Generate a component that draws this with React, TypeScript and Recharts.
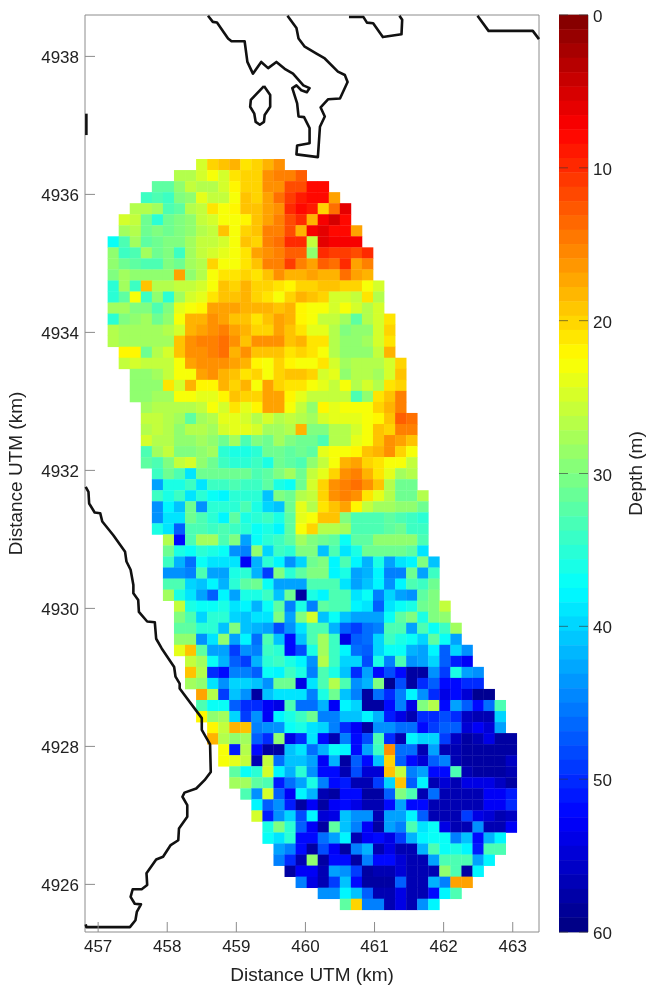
import { ReferenceArea, Scatter, ScatterChart, XAxis, YAxis } from "recharts";

const FONT = "'Liberation Sans', Arial, sans-serif";
const AXIS_GREY = "#8c8c8c";
const TEXT = "#222";

const xTicks = [457, 458, 459, 460, 461, 462, 463];
const yTicks = [4926, 4928, 4930, 4932, 4934, 4936, 4938];
const depthTicks = [0, 10, 20, 30, 40, 50, 60];

// grid of the survey, km
const FIRST_X = 457.22;
const FIRST_Y = 4936.43;
const STEP = 0.16;

// first occupied column of every row, north to south
const rowStart = [
  8, 6, 4, 3, 2, 1, 1, 0, 0, 0, 0, 0, 0, 0, 0, 0, 0, 1, 1, 2, 2, 2, 3, 3, 3, 3, 3, 3, 4, 4, 4, 4, 4, 4,
  5, 5, 5, 5, 5, 5, 6, 6, 6, 6, 6, 7, 7, 7, 8, 8, 8, 9, 9, 10, 10, 11, 11, 12, 13, 13, 14, 14, 15, 15, 16, 17, 19, 21,
];

// depth (m), one list per row
const depthRows = [
  [25, 20, 19, 18, 21, 20, 18, 16],
  [27, 27, 25, 23, 25, 21, 20, 20, 16, 15, 15, 13],
  [32, 32, 29, 26, 27, 27, 25, 22, 20, 20, 16, 16, 12, 12, 8, 8],
  [34, 33, 34, 30, 29, 24, 26, 26, 23, 19, 20, 17, 14, 11, 9, 8, 8, 17],
  [27, 27, 28, 33, 32, 27, 26, 21, 23, 22, 19, 19, 17, 16, 10, 8, 9, 20, 14, 6],
  [25, 26, 31, 35, 31, 30, 29, 26, 25, 23, 23, 22, 19, 17, 15, 12, 10, 18, 7, 5, 8],
  [28, 27, 31, 30, 31, 30, 29, 27, 26, 19, 23, 20, 19, 15, 15, 12, 18, 7, 6, 8, 8, 17],
  [37, 33, 28, 32, 31, 30, 30, 28, 26, 26, 25, 23, 19, 20, 15, 14, 10, 10, 26, 6, 7, 7, 7],
  [29, 34, 33, 28, 31, 30, 34, 28, 26, 25, 24, 23, 21, 17, 16, 15, 13, 13, 29, 10, 11, 11, 12, 10],
  [29, 31, 32, 33, 33, 30, 31, 28, 27, 20, 23, 23, 21, 19, 15, 15, 11, 15, 17, 13, 14, 10, 17, 15],
  [30, 28, 29, 29, 29, 29, 17, 29, 27, 23, 21, 21, 20, 21, 19, 16, 18, 18, 17, 18, 18, 14, 17, 18],
  [35, 28, 34, 19, 27, 27, 26, 26, 25, 23, 19, 20, 18, 20, 20, 21, 22, 20, 20, 19, 19, 20, 20, 23, 25],
  [35, 32, 23, 34, 29, 35, 28, 25, 24, 21, 19, 19, 18, 20, 21, 23, 20, 18, 19, 20, 25, 25, 26, 21, 27],
  [28, 28, 30, 30, 33, 30, 24, 23, 22, 17, 17, 17, 18, 18, 18, 19, 18, 22, 23, 23, 25, 23, 25, 27, 25],
  [35, 30, 29, 28, 31, 29, 23, 18, 18, 16, 17, 19, 19, 21, 19, 17, 18, 22, 23, 26, 26, 28, 32, 27, 25, 21],
  [27, 28, 28, 28, 28, 27, 25, 18, 17, 16, 15, 17, 18, 20, 20, 17, 19, 21, 24, 24, 27, 30, 29, 29, 25, 20],
  [27, 28, 28, 28, 28, 28, 19, 16, 15, 15, 14, 16, 19, 16, 16, 16, 19, 18, 21, 21, 27, 29, 29, 28, 25, 21],
  [22, 22, 31, 27, 25, 19, 16, 16, 15, 14, 18, 16, 19, 19, 19, 21, 20, 21, 23, 27, 29, 29, 29, 26, 18],
  [26, 25, 26, 26, 26, 23, 17, 16, 16, 16, 17, 18, 22, 23, 20, 22, 23, 23, 21, 25, 28, 27, 27, 27, 25, 20],
  [29, 29, 28, 26, 23, 23, 17, 16, 18, 19, 21, 20, 23, 20, 19, 19, 20, 25, 24, 29, 27, 27, 28, 25, 19],
  [29, 29, 29, 21, 25, 18, 22, 22, 18, 20, 18, 23, 17, 20, 21, 21, 23, 24, 26, 23, 27, 25, 27, 21, 20],
  [29, 29, 28, 28, 23, 23, 24, 24, 22, 19, 20, 20, 17, 17, 22, 24, 26, 26, 26, 26, 33, 29, 21, 19, 15],
  [28, 27, 27, 27, 27, 26, 23, 25, 21, 24, 22, 17, 17, 23, 26, 29, 22, 24, 23, 23, 23, 20, 18, 15],
  [26, 26, 27, 28, 32, 28, 27, 24, 24, 25, 27, 25, 27, 26, 27, 28, 25, 24, 24, 24, 23, 22, 19, 13, 14],
  [27, 26, 27, 29, 27, 27, 28, 25, 24, 24, 25, 28, 28, 27, 18, 30, 30, 27, 27, 25, 23, 19, 20, 15, 15],
  [25, 27, 27, 29, 29, 28, 29, 31, 28, 33, 30, 31, 28, 30, 31, 31, 33, 27, 27, 24, 23, 19, 16, 17, 19],
  [33, 28, 26, 30, 30, 29, 28, 35, 36, 36, 35, 31, 31, 32, 31, 32, 24, 23, 23, 22, 19, 18, 16, 20, 23],
  [32, 33, 30, 26, 25, 29, 31, 34, 35, 35, 34, 36, 31, 32, 33, 29, 26, 23, 18, 17, 20, 21, 23, 23, 26],
  [34, 31, 33, 39, 31, 31, 31, 31, 31, 33, 32, 30, 28, 31, 26, 24, 20, 16, 15, 18, 21, 24, 28, 27],
  [43, 36, 36, 34, 39, 34, 34, 33, 34, 34, 32, 36, 37, 31, 25, 20, 16, 15, 14, 16, 19, 27, 31, 31],
  [34, 36, 34, 39, 35, 37, 38, 35, 35, 35, 41, 30, 31, 27, 26, 20, 16, 15, 16, 21, 24, 27, 31, 31, 27],
  [44, 38, 41, 31, 44, 35, 35, 35, 33, 36, 40, 41, 31, 24, 27, 21, 19, 17, 22, 26, 28, 28, 29, 29, 31],
  [44, 39, 39, 31, 33, 35, 38, 32, 36, 35, 34, 36, 32, 24, 23, 19, 19, 30, 33, 33, 33, 32, 33, 34, 35],
  [36, 39, 47, 33, 33, 34, 33, 34, 35, 37, 36, 38, 32, 23, 20, 27, 27, 28, 33, 33, 33, 32, 31, 34, 34],
  [27, 52, 33, 28, 28, 33, 30, 43, 37, 35, 34, 32, 28, 30, 31, 32, 37, 32, 32, 29, 29, 29, 29, 33],
  [31, 36, 37, 35, 36, 37, 44, 45, 29, 40, 34, 35, 30, 30, 41, 33, 39, 36, 31, 31, 31, 31, 32, 39],
  [34, 42, 46, 37, 39, 39, 39, 53, 42, 35, 38, 44, 40, 31, 30, 38, 33, 38, 42, 36, 43, 39, 38, 30, 41],
  [44, 44, 45, 33, 43, 43, 36, 35, 42, 49, 30, 35, 32, 30, 30, 38, 36, 43, 42, 38, 45, 45, 31, 43, 34],
  [33, 33, 40, 41, 38, 42, 35, 32, 31, 37, 43, 43, 43, 33, 33, 33, 39, 43, 41, 38, 44, 38, 33, 34, 31],
  [28, 36, 39, 43, 47, 38, 43, 36, 36, 34, 41, 31, 58, 36, 38, 33, 33, 39, 37, 45, 40, 43, 44, 32, 30],
  [26, 36, 37, 37, 36, 39, 38, 42, 37, 32, 45, 36, 45, 32, 33, 33, 38, 39, 47, 39, 37, 36, 31, 30, 26],
  [30, 33, 40, 35, 35, 40, 41, 39, 39, 30, 43, 30, 25, 41, 37, 41, 43, 43, 43, 37, 32, 30, 36, 30, 29],
  [32, 32, 35, 35, 41, 30, 41, 42, 43, 48, 44, 39, 33, 33, 42, 47, 49, 46, 45, 33, 33, 43, 33, 37, 34, 28],
  [29, 29, 44, 39, 29, 43, 38, 46, 33, 41, 52, 41, 33, 28, 34, 54, 47, 46, 40, 34, 36, 37, 40, 32, 37, 43],
  [24, 19, 32, 43, 43, 49, 44, 45, 34, 35, 52, 48, 36, 28, 34, 38, 46, 47, 40, 37, 37, 42, 43, 38, 47, 40, 44],
  [26, 28, 37, 42, 47, 49, 42, 35, 34, 36, 38, 44, 27, 34, 40, 40, 48, 36, 45, 33, 44, 43, 40, 47, 51, 53],
  [19, 27, 50, 52, 45, 45, 47, 37, 38, 34, 36, 45, 33, 36, 41, 50, 43, 52, 48, 52, 58, 58, 44, 49, 36, 43, 44],
  [28, 29, 39, 44, 40, 40, 41, 44, 31, 31, 54, 39, 33, 27, 33, 44, 42, 30, 59, 48, 58, 50, 47, 52, 52, 50, 50],
  [17, 27, 49, 41, 44, 58, 41, 39, 39, 39, 45, 36, 31, 41, 45, 58, 46, 50, 45, 38, 44, 50, 54, 52, 55, 59, 59],
  [33, 37, 37, 47, 50, 50, 53, 54, 33, 46, 46, 42, 53, 38, 40, 58, 58, 52, 45, 54, 30, 27, 52, 43, 47, 52, 46, 33],
  [22, 29, 28, 40, 49, 44, 53, 38, 36, 34, 31, 45, 45, 41, 41, 38, 42, 51, 54, 57, 50, 50, 48, 50, 56, 57, 57, 40],
  [22, 26, 18, 19, 45, 44, 44, 37, 36, 39, 40, 45, 50, 53, 58, 44, 44, 46, 46, 52, 49, 47, 47, 55, 53, 55, 43],
  [18, 27, 29, 28, 47, 50, 29, 54, 50, 39, 52, 57, 45, 52, 48, 33, 50, 57, 38, 40, 40, 49, 56, 58, 57, 54, 58, 58],
  [23, 51, 27, 52, 58, 58, 41, 39, 46, 42, 37, 38, 52, 43, 34, 16, 46, 46, 57, 43, 57, 57, 58, 58, 58, 58, 58],
  [23, 24, 26, 57, 26, 46, 41, 41, 43, 53, 42, 58, 47, 52, 41, 20, 47, 52, 55, 47, 45, 57, 58, 58, 58, 58, 56],
  [32, 37, 35, 25, 38, 42, 35, 44, 52, 52, 57, 48, 55, 55, 19, 26, 45, 43, 52, 52, 33, 57, 58, 58, 58, 57],
  [28, 28, 32, 33, 51, 46, 43, 36, 45, 52, 51, 57, 57, 49, 40, 19, 47, 38, 57, 55, 57, 54, 54, 54, 56, 58],
  [33, 44, 25, 47, 53, 38, 42, 57, 58, 52, 52, 58, 58, 47, 30, 33, 57, 46, 57, 57, 57, 57, 53, 53, 51],
  [38, 47, 44, 51, 58, 53, 58, 53, 52, 54, 57, 57, 52, 43, 52, 52, 57, 57, 57, 57, 57, 53, 53, 50],
  [25, 51, 44, 40, 48, 38, 55, 54, 41, 44, 44, 57, 43, 43, 38, 47, 57, 57, 57, 49, 54, 55, 57, 56],
  [36, 30, 35, 47, 53, 58, 32, 41, 45, 53, 58, 43, 45, 33, 39, 37, 54, 57, 57, 44, 57, 57, 53],
  [37, 39, 35, 52, 52, 46, 43, 38, 57, 53, 52, 54, 49, 42, 38, 37, 37, 45, 41, 52, 42, 38],
  [43, 45, 52, 58, 48, 53, 58, 45, 42, 57, 54, 57, 57, 42, 33, 37, 36, 38, 51, 33, 33],
  [45, 50, 57, 29, 58, 52, 52, 58, 45, 52, 52, 55, 57, 57, 43, 33, 33, 33, 43, 38],
  [58, 53, 53, 57, 43, 44, 49, 58, 57, 57, 55, 57, 57, 57, 29, 33, 58, 38],
  [45, 54, 57, 49, 41, 52, 58, 58, 58, 47, 57, 57, 42, 45, 17, 17],
  [44, 44, 38, 41, 47, 57, 57, 54, 57, 57, 52, 38, 33],
  [32, 20, 45, 45, 57, 54, 57, 44, 38],
];

// colour bar steps, middle of each of the 64 bands (m)
const barLevels = [
  0.47, 1.41, 2.34, 3.28, 4.22, 5.16, 6.09, 7.03, 7.97, 8.91, 9.84, 10.78, 11.72, 12.66, 13.59, 14.53,
  15.47, 16.41, 17.34, 18.28, 19.22, 20.16, 21.09, 22.03, 22.97, 23.91, 24.84, 25.78, 26.72, 27.66, 28.59, 29.53,
  30.47, 31.41, 32.34, 33.28, 34.22, 35.16, 36.09, 37.03, 37.97, 38.91, 39.84, 40.78, 41.72, 42.66, 43.59, 44.53,
  45.47, 46.41, 47.34, 48.28, 49.22, 50.16, 51.09, 52.03, 52.97, 53.91, 54.84, 55.78, 56.72, 57.66, 58.59, 59.53,
];

type Pt = [number, number];

const westCoast: Pt[] = [
  [456.82, 4931.76], [456.86, 4931.69], [456.87, 4931.52], [456.95, 4931.39], [457.03, 4931.38], [457.06, 4931.26],
  [457.22, 4931.06], [457.39, 4930.82], [457.41, 4930.68], [457.47, 4930.56], [457.51, 4930.34], [457.51, 4930.22],
  [457.58, 4930.12], [457.59, 4929.95], [457.71, 4929.81], [457.82, 4929.8], [457.84, 4929.56], [457.92, 4929.42],
  [458.1, 4929.15], [458.12, 4929.01], [458.18, 4928.91], [458.18, 4928.84], [458.5, 4928.41], [458.5, 4928.24],
  [458.62, 4928.03], [458.63, 4927.63], [458.54, 4927.51], [458.42, 4927.39], [458.25, 4927.33], [458.22, 4927.27],
  [458.29, 4927.15], [458.29, 4926.98], [458.17, 4926.81], [458.16, 4926.64], [458.05, 4926.57], [457.94, 4926.4],
  [457.84, 4926.36], [457.7, 4926.16], [457.71, 4925.99], [457.63, 4925.93], [457.5, 4925.93], [457.47, 4925.82],
  [457.53, 4925.72], [457.62, 4925.71], [457.56, 4925.6], [457.54, 4925.48], [457.46, 4925.38], [456.83, 4925.38],
  [456.82, 4925.42],
];

const northCoast: Pt[] = [
  [458.59, 4938.59], [458.66, 4938.5], [458.72, 4938.49], [458.88, 4938.26], [458.93, 4938.22], [459.12, 4938.22],
  [459.16, 4937.92], [459.24, 4937.75], [459.36, 4937.92], [459.46, 4937.83], [459.58, 4937.92], [459.7, 4937.82],
  [459.82, 4937.75], [459.97, 4937.58], [460.06, 4937.54], [460.02, 4937.48], [459.94, 4937.51], [459.87, 4937.58],
  [459.81, 4937.54], [459.88, 4937.32], [459.9, 4937.13], [459.98, 4937.12], [460.06, 4936.96], [460.06, 4936.74],
  [459.88, 4936.71], [459.87, 4936.58], [460.18, 4936.54], [460.21, 4936.98], [460.28, 4937.13], [460.22, 4937.26],
  [460.33, 4937.38], [460.5, 4937.39], [460.61, 4937.63], [460.57, 4937.73], [460.47, 4937.78], [460.28, 4937.97],
  [460.16, 4938.04], [459.99, 4938.14], [459.9, 4938.26], [459.87, 4938.41], [459.74, 4938.59],
];

const island: Pt[] = [
  [459.4, 4937.57], [459.49, 4937.44], [459.49, 4937.27], [459.41, 4937.15], [459.4, 4937.05], [459.34, 4937.01],
  [459.28, 4937.05], [459.26, 4937.17], [459.2, 4937.27], [459.21, 4937.37], [459.4, 4937.57],
];

const topBay: Pt[] = [
  [460.63, 4938.57], [460.84, 4938.57], [460.89, 4938.49], [460.98, 4938.48], [461.12, 4938.28], [461.39, 4938.32],
  [461.4, 4938.53], [461.36, 4938.59],
];

const topRight: Pt[] = [[462.49, 4938.59], [462.65, 4938.37], [463.29, 4938.37], [463.38, 4938.25]];
const leftStub: Pt[] = [[456.83, 4937.17], [456.83, 4936.86]];

const coastLines = [westCoast, northCoast, island, topBay, topRight, leftStub];

const cells = depthRows.flatMap((row, r) =>
  row.map((depth, i) => ({
    x: FIRST_X + (rowStart[r] + i) * STEP,
    y: FIRST_Y - r * STEP,
    depth,
  })),
);

const barData = barLevels.map((depth) => ({ x: 0.5, y: depth, depth }));

function jet(depth: number) {
  const v = 1 - depth / 60;
  const ch = (c: number) => Math.round(255 * Math.max(0, Math.min(1, 1.5 - Math.abs(4 * v - c))));
  return `rgb(${ch(3)},${ch(2)},${ch(1)})`;
}

function CellMark({ cx, cy, payload }: any) {
  return <rect x={cx - 5.7} y={cy - 5.7} width={11.4} height={11.4} fill={jet(payload.depth)} />;
}

function BarStep({ cx, cy, payload }: any) {
  return <rect x={cx - 14.5} y={cy - 7.4} width={29} height={14.8} fill={jet(payload.depth)} />;
}

const labelStyle = { fontFamily: FONT, fontSize: 19, fill: TEXT, textAnchor: "middle" as const };
const tickText = { fontFamily: FONT, fontSize: 17, fill: TEXT };

function BottomTick({ x, y, payload }: any) {
  return (
    <g>
      <line x1={x} x2={x} y1={y} y2={y - 10} stroke={AXIS_GREY} />
      <text x={x} y={y + 20} textAnchor="middle" {...tickText}>
        {payload.value}
      </text>
    </g>
  );
}

function TopTick({ x, y }: any) {
  return <line x1={x} x2={x} y1={y} y2={y + 10} stroke={AXIS_GREY} />;
}

function LeftTick({ x, y, payload }: any) {
  return (
    <g>
      <line x1={x} x2={x + 10} y1={y} y2={y} stroke={AXIS_GREY} />
      <text x={x - 6} y={y + 7} textAnchor="end" {...tickText}>
        {payload.value}
      </text>
    </g>
  );
}

function RightTick({ x, y }: any) {
  return <line x1={x} x2={x - 10} y1={y} y2={y} stroke={AXIS_GREY} />;
}

function BarTick({ x, y, payload }: any) {
  return (
    <g>
      <line x1={x - 29} x2={x - 20} y1={y} y2={y} stroke="#333" strokeOpacity={0.6} />
      <line x1={x - 9} x2={x} y1={y} y2={y} stroke="#333" strokeOpacity={0.6} />
      <text x={x + 5} y={y + 7} textAnchor="start" {...tickText}>
        {payload.value}
      </text>
    </g>
  );
}

export default function App() {
  return (
    <div style={{ position: "absolute", left: 0, top: 0, width: 646, height: 986, background: "#fff", filter: "blur(0.45px)" }}>
      <div style={{ position: "absolute", left: 0, top: 0 }}>
        <ScatterChart width={646} height={986} margin={{ top: 14, right: 106, bottom: 0, left: 0 }}>
          <XAxis
            type="number"
            dataKey="x"
            domain={[456.81, 463.38]}
            ticks={xTicks}
            interval={0}
            height={54}
            stroke={AXIS_GREY}
            tickLine={false}
            tickSize={0}
            tickMargin={0}
            tick={<BottomTick />}
            label={{ value: "Distance UTM (km)", position: "insideBottom", offset: 5, style: labelStyle }}
          />
          <XAxis
            xAxisId="top"
            orientation="top"
            type="number"
            domain={[456.81, 463.38]}
            ticks={xTicks}
            interval={0}
            height={1}
            stroke={AXIS_GREY}
            tickLine={false}
            tickSize={0}
            tickMargin={0}
            tick={<TopTick />}
          />
          <YAxis
            type="number"
            dataKey="y"
            domain={[4925.31, 4938.6]}
            ticks={yTicks}
            interval={0}
            width={85}
            stroke={AXIS_GREY}
            tickLine={false}
            tickSize={0}
            tickMargin={0}
            tick={<LeftTick />}
            label={{ value: "Distance UTM (km)", angle: -90, position: "insideLeft", offset: 15, style: labelStyle }}
          />
          <YAxis
            yAxisId="right"
            orientation="right"
            type="number"
            domain={[4925.31, 4938.6]}
            ticks={yTicks}
            interval={0}
            width={1}
            stroke={AXIS_GREY}
            tickLine={false}
            tickSize={0}
            tickMargin={0}
            tick={<RightTick />}
          />
          <Scatter data={cells} shape={CellMark} isAnimationActive={false} />
          {coastLines.map((line, i) => (
            <Scatter
              key={i}
              data={line.map(([x, y]) => ({ x, y }))}
              line={{ stroke: "#111", strokeWidth: 2.6, strokeLinejoin: "round" }}
              shape={() => <g />}
              isAnimationActive={false}
            />
          ))}
        </ScatterChart>
      </div>
      <div style={{ position: "absolute", left: 559, top: 0 }}>
        <ScatterChart width={87} height={986} margin={{ top: 15, right: 0, bottom: 54, left: 0 }}>
          <XAxis type="number" dataKey="x" domain={[0, 1]} hide />
          <YAxis
            type="number"
            dataKey="y"
            reversed
            domain={[0, 60]}
            ticks={depthTicks}
            interval={0}
            orientation="right"
            width={58}
            stroke="none"
            tickLine={false}
            tickSize={0}
            tickMargin={0}
            tick={<BarTick />}
            label={{ value: "Depth (m)", angle: -90, position: "insideRight", offset: 11, style: labelStyle }}
          />
          <Scatter data={barData} shape={BarStep} isAnimationActive={false} />
          <ReferenceArea x1={0} x2={1} y1={0} y2={60} fill="none" stroke={AXIS_GREY} />
        </ScatterChart>
      </div>
    </div>
  );
}
